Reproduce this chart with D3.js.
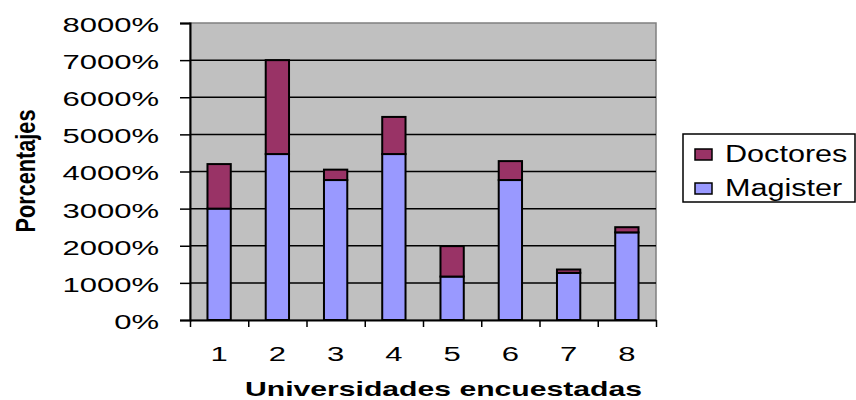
<!DOCTYPE html>
<html>
<head>
<meta charset="utf-8">
<script src="https://cdn.jsdelivr.net/npm/d3@7"></script>
<style>
  body { margin: 0; background: #fff; }
  svg { display: block; font-family: Arial, "Liberation Sans", sans-serif; }
</style>
</head>
<body>
<div id="chart"></div>
<script>
const universidades = ["1", "2", "3", "4", "5", "6", "7", "8"];
const magister = [3000, 4470, 3770, 4470, 1170, 3770, 1270, 2360];
const doctores = [1200, 2530, 280, 1000, 820, 510, 90, 140];
const yTicks = [0, 1000, 2000, 3000, 4000, 5000, 6000, 7000, 8000];
const seriesNames = ["Magister", "Doctores"];
const colors = { Magister: "#9999ff", Doctores: "#993366" };

const width = 856;
const height = 400;
const plotLeft = 190, plotRight = 656, plotTop = 23, plotBottom = 320;
const stretch = 1.55; // the picture is wide, text looks pulled sideways

const rows = universidades.map((u, i) => ({ u, Magister: magister[i], Doctores: doctores[i] }));

const svg = d3.select("#chart").append("svg")
  .attr("width", width)
  .attr("height", height);

const xScale = d3.scaleBand()
  .domain(universidades)
  .range([plotLeft, plotRight])
  .paddingInner(0.6)
  .paddingOuter(0.3);

const xEdges = d3.scaleLinear().domain([0, universidades.length]).range([plotLeft, plotRight]);

const yScale = d3.scaleLinear()
  .domain([0, 8000])
  .range([plotBottom, plotTop]);

function widen(sel, k) {
  sel.each(function () {
    const w = this.getComputedTextLength();
    d3.select(this).attr("textLength", w * k).attr("lengthAdjust", "spacingAndGlyphs");
  });
}

// plot background
svg.append("rect")
  .attr("x", plotLeft).attr("y", plotTop)
  .attr("width", plotRight - plotLeft).attr("height", plotBottom - plotTop)
  .attr("fill", "#c0c0c0")
  .attr("stroke", "#808080")
  .attr("stroke-width", 1.5);

// gridlines
svg.append("g").selectAll("line")
  .data(yTicks.filter(d => d > 0 && d < 8000))
  .enter().append("line")
  .attr("x1", plotLeft).attr("x2", plotRight)
  .attr("y1", d => yScale(d)).attr("y2", d => yScale(d))
  .attr("stroke", "#000")
  .attr("stroke-width", 1.5);

// stacked bars
const stacked = d3.stack().keys(seriesNames)(rows);
svg.append("g").selectAll("g")
  .data(stacked)
  .enter().append("g")
  .attr("fill", d => colors[d.key])
  .selectAll("rect")
  .data(d => d)
  .enter().append("rect")
  .attr("x", d => xScale(d.data.u))
  .attr("y", d => yScale(d[1]))
  .attr("width", xScale.bandwidth())
  .attr("height", d => yScale(d[0]) - yScale(d[1]))
  .attr("stroke", "#000")
  .attr("stroke-width", 2);

// y axis
const yAxis = svg.append("g")
  .attr("transform", `translate(${plotLeft},0)`)
  .call(d3.axisLeft(yScale).tickValues(yTicks).tickFormat(d => d + "%").tickSize(10).tickPadding(21));
yAxis.select(".domain").attr("stroke-width", 2);
yAxis.selectAll(".tick line").attr("stroke-width", 1.5);
yAxis.selectAll("text")
  .attr("font-size", 20)
  .attr("font-family", "Arial, 'Liberation Sans', sans-serif")
  .attr("fill", "#000")
  .attr("dy", "0.42em")
  .call(widen, stretch);

// x axis ticks at category edges
const xAxis = svg.append("g")
  .attr("transform", `translate(0,${plotBottom})`)
  .call(d3.axisBottom(xEdges).tickValues(d3.range(0, universidades.length + 1)).tickFormat("").tickSize(7).tickSizeOuter(0));
xAxis.select(".domain").attr("stroke-width", 2);
xAxis.selectAll(".tick line").attr("stroke-width", 1.5);

// x labels
svg.append("g").selectAll("text")
  .data(universidades)
  .enter().append("text")
  .attr("x", d => xScale(d) + xScale.bandwidth() / 2)
  .attr("y", 361)
  .attr("text-anchor", "middle")
  .attr("font-size", 20)
  .text(d => d)
  .call(widen, stretch);

// axis titles
svg.append("text")
  .attr("x", 245)
  .attr("y", 396)
  .attr("font-size", 21)
  .attr("font-weight", "bold")
  .text("Universidades encuestadas")
  .attr("textLength", 397)
  .attr("lengthAdjust", "spacingAndGlyphs");

svg.append("text")
  .attr("transform", "translate(35,171) scale(1.4,1) rotate(-90)")
  .attr("text-anchor", "middle")
  .attr("font-size", 20)
  .attr("font-weight", "bold")
  .text("Porcentajes")
  .attr("textLength", 123)
  .attr("lengthAdjust", "spacingAndGlyphs");

// legend
const legend = svg.append("g");
legend.append("rect")
  .attr("x", 683).attr("y", 134)
  .attr("width", 172).attr("height", 68)
  .attr("fill", "#fff")
  .attr("stroke", "#000")
  .attr("stroke-width", 1.5);

const legendItems = ["Doctores", "Magister"];
const item = legend.selectAll("g.item")
  .data(legendItems)
  .enter().append("g")
  .attr("class", "item")
  .attr("transform", (d, i) => `translate(0,${i * 34})`);

item.append("rect")
  .attr("x", 695).attr("y", 149)
  .attr("width", 17).attr("height", 11)
  .attr("fill", d => colors[d])
  .attr("stroke", "#000")
  .attr("stroke-width", 1.5);

item.append("text")
  .attr("x", 725)
  .attr("y", 162)
  .attr("font-size", 23)
  .text(d => d)
  .call(widen, 1.33);
</script>
</body>
</html>
